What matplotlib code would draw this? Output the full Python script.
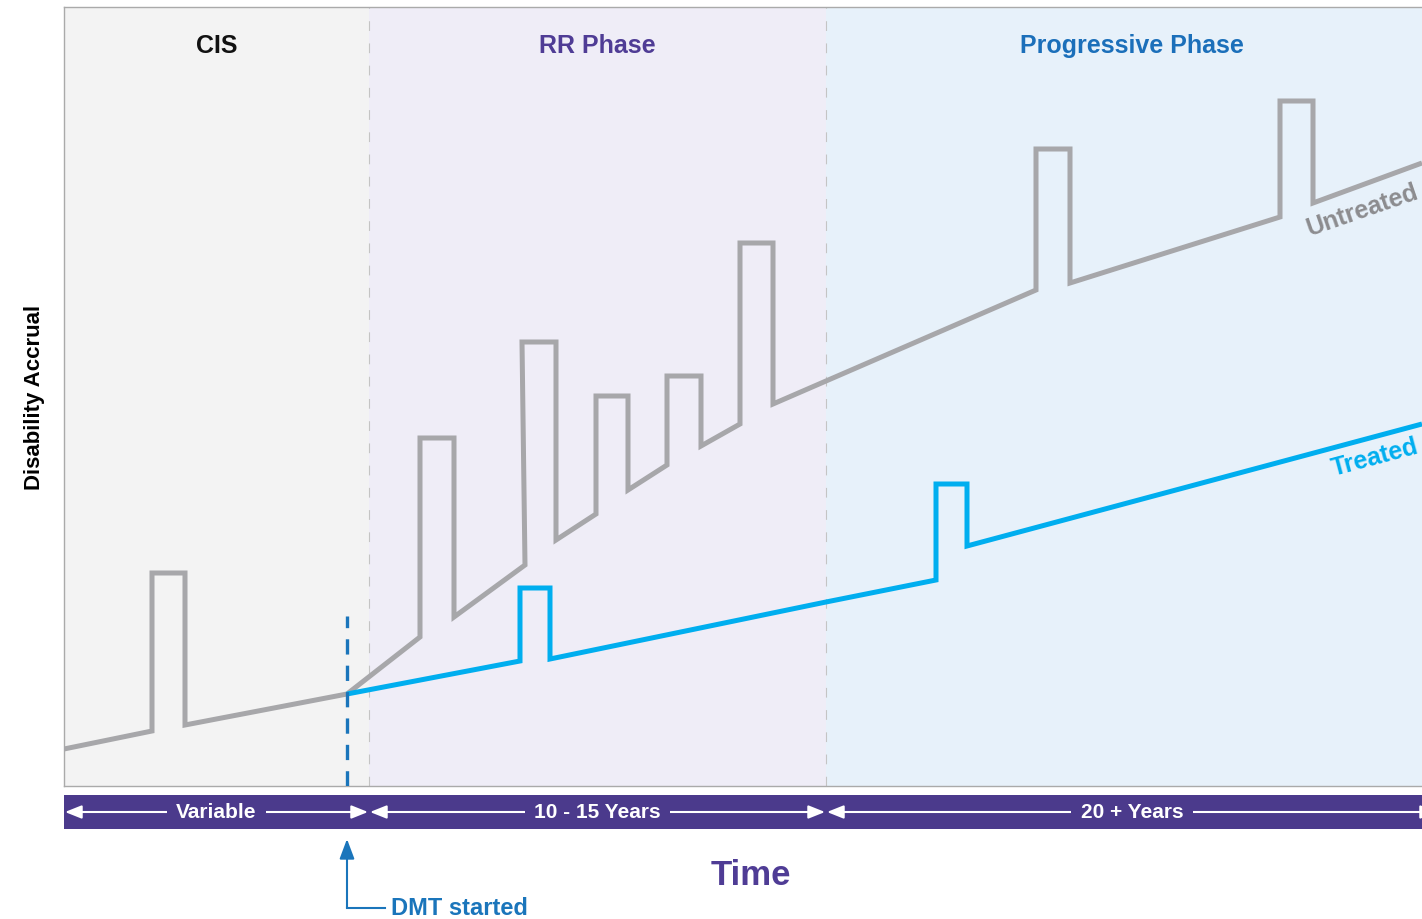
"""Disease course chart: disability accrual over time, untreated vs treated"""

import matplotlib

matplotlib.use("Agg")
import matplotlib.pyplot as plt

plt.rcParams["font.family"] = ["Liberation Sans", "DejaVu Sans"]
plt.rcParams["font.weight"] = "bold"
plt.rcParams["lines.scale_dashes"] = False

# 病程阶段（时间轴上的起止位置）
phase_names = ["CIS", "RR Phase", "Progressive Phase"]
phase_bounds = [0, 305, 762, 1374]
phase_spans = ["Variable", "10 - 15 Years", "20 + Years"]
phase_bg = ["#f3f3f3", "#efedf7", "#e7f1fa"]
phase_title_colors = ["#111111", "#4f3c95", "#1b6fba"]

# 未治疗曲线
untreated_t = [0, 88, 88, 121, 121, 283, 356, 356, 390, 390, 461, 458,
               492, 492, 532, 532, 564, 564, 603, 603, 637, 637, 676, 676,
               709, 709, 762, 972, 972, 1006, 1006, 1216, 1216, 1249, 1249,
               1358]
untreated_d = [37, 55, 213, 213, 61, 92, 149, 348, 348, 169, 221, 444,
               444, 246, 272, 390, 390, 296, 321, 410, 410, 340, 362, 543,
               543, 382, 405, 496, 637, 637, 503, 569, 685, 685, 583,
               623]

# 治疗后曲线（DMT 开始后）
treated_t = [283, 456, 456, 486, 486, 762, 872, 872, 903, 903, 1358]
treated_d = [92, 125, 198, 198, 127, 184, 206, 302, 302, 240, 362]

dmt_start = 283

GRAY = "#a7a7aa"
BLUE = "#00aeef"
DMT_BLUE = "#1a75bb"
PURPLE = "#4b3a8c"

fig = plt.figure(figsize=(14.22, 9.2), dpi=100)
W, H = 1422, 920
ax = fig.add_axes([64 / W, (H - 787) / H, 1358 / W, 779 / H])
bar = fig.add_axes([64 / W, (H - 830) / H, 1358 / W, 34 / H])

ax.set_xlim(0, 1358)
ax.set_ylim(0, 779)
ax.set_xticks([])
ax.set_yticks([])
for side in ["left", "top", "bottom"]:
    ax.spines[side].set_color("#aaaaaa")
    ax.spines[side].set_linewidth(1)
ax.spines["right"].set_visible(False)

# 阶段背景和分隔线
for i, name in enumerate(phase_names):
    lo, hi = phase_bounds[i], phase_bounds[i + 1]
    ax.axvspan(lo, hi, color=phase_bg[i], lw=0, zorder=0)
    ax.text((lo + hi) / 2, 741, name, ha="center", va="center",
            fontsize=18, color=phase_title_colors[i])
for b in phase_bounds[1:-1]:
    ax.axvline(b, color="#c4c4c4", lw=0.8, dashes=(7, 9), zorder=1)

ax.plot(untreated_t, untreated_d, color=GRAY, lw=3.6,
        solid_joinstyle="miter", solid_capstyle="butt", zorder=3)
ax.plot(treated_t, treated_d, color=BLUE, lw=3.6,
        solid_joinstyle="miter", solid_capstyle="butt", zorder=4)
ax.plot([dmt_start, dmt_start], [0, 170], color=DMT_BLUE, lw=2.4,
        dashes=(11, 8), zorder=5)

ax.text(1362 - 64, 787 - 210, "Untreated", rotation=19, ha="center",
        va="center", fontsize=18, color="#8c8c8f", zorder=6)
ax.text(1375 - 64, 787 - 458, "Treated", rotation=15, ha="center",
        va="center", fontsize=18, color=BLUE, zorder=6)

ax.set_ylabel("Disability Accrual", fontsize=16, fontweight="bold",
              labelpad=14)

# 时间段条
bar.set_facecolor(PURPLE)
bar.set_xlim(0, 1358)
bar.set_ylim(0, 1)
bar.set_xticks([])
bar.set_yticks([])
for s in bar.spines.values():
    s.set_visible(False)
for i, span in enumerate(phase_spans):
    lo, hi = phase_bounds[i], phase_bounds[i + 1]
    bar.annotate("", xy=(lo + 1, 0.5), xytext=(hi - 1, 0.5),
                 arrowprops=dict(arrowstyle="<|-|>,head_length=1.0,head_width=0.4",
                                 color="white", lw=1.5, shrinkA=0, shrinkB=0),
                 annotation_clip=False)
    bar.text((lo + hi) / 2, 0.5, span, ha="center", va="center",
             fontsize=15, color="white", clip_on=True,
             bbox=dict(boxstyle="square,pad=0.45", fc=PURPLE, ec="none"))

ax.text(751 - 64, 787 - 876, "Time", ha="center", va="center",
        fontsize=25, color="#4f3c95", clip_on=False)

# DMT 开始标注
ax.annotate("", xy=(dmt_start, 787 - 840), xytext=(dmt_start, 787 - 909),
            arrowprops=dict(arrowstyle="-|>,head_length=1.2,head_width=0.45",
                            color=DMT_BLUE, lw=1.5, shrinkA=0, shrinkB=0),
            annotation_clip=False)
ax.plot([dmt_start, 385 - 64], [787 - 909, 787 - 909], color=DMT_BLUE,
        lw=1.5, clip_on=False)
ax.text(391 - 64, 787 - 909, "DMT started", ha="left", va="center",
        fontsize=17, color=DMT_BLUE, clip_on=False)

fig.savefig("out.png", dpi=100)
